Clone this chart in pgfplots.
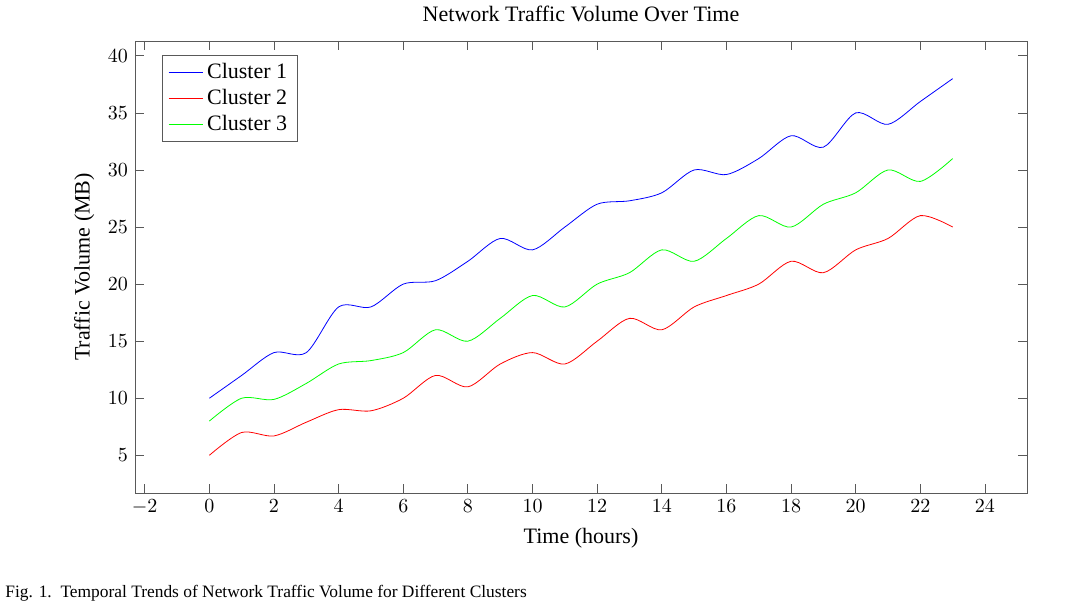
\documentclass[border=0pt]{standalone}
\usepackage{fontspec}
\setmainfont{Liberation Serif}
\usepackage{pgfplots}
\pgfplotsset{compat=1.18}
\begin{document}
\begin{tikzpicture}[x=1pt,y=1pt]
\path[use as bounding box] (-67.5,-60) rectangle (472.5,246.5);
\begin{axis}[
  at={(0,0)}, anchor=south west,
  scale only axis, width=446pt, height=226pt,
  title={Network Traffic Volume Over Time},
  xlabel={Time (hours)}, ylabel={Traffic Volume (MB)},
  xtick={-2,0,...,24},
  ytick={5,10,...,40},
  label style={font=\fontsize{11}{13}\selectfont},
  title style={font=\fontsize{11}{13}\selectfont},
  legend pos=north west,
  legend style={font=\fontsize{11}{13}\selectfont, legend cell align=left, draw=gray!70!black},
  axis line style={gray!70!black},
  every tick/.style={gray!70!black},
]
\addplot[color=blue, smooth] coordinates {(0,10)(1,12)(2,14)(3,14)(4,18)(5,18)(6,20)(7,20.3)(8,22)(9,24)(10,23)(11,25)(12,27)(13,27.3)(14,28)(15,30)(16,29.6)(17,31)(18,33)(19,32)(20,35)(21,34)(22,36)(23,38)};
\addlegendentry{Cluster 1}
\addplot[color=red, smooth] coordinates {(0,5)(1,7)(2,6.7)(3,7.9)(4,9)(5,8.9)(6,10)(7,12)(8,11)(9,13)(10,14)(11,13)(12,15)(13,17)(14,16)(15,18)(16,19)(17,20)(18,22)(19,21)(20,23)(21,24)(22,26)(23,25)};
\addlegendentry{Cluster 2}
\addplot[color=green, smooth] coordinates {(0,8)(1,10)(2,9.9)(3,11.3)(4,13)(5,13.3)(6,14)(7,16)(8,15)(9,17)(10,19)(11,18)(12,20)(13,21)(14,23)(15,22)(16,24)(17,26)(18,25)(19,27)(20,28)(21,30)(22,29)(23,31)};
\addlegendentry{Cluster 3}
\end{axis}
\node[anchor=base west, font=\fontsize{8.7}{10}\selectfont, inner sep=0pt] at (-65,-52.5) {Fig. 1.\ \ Temporal Trends of Network Traffic Volume for Different Clusters};
\end{tikzpicture}
\end{document}
